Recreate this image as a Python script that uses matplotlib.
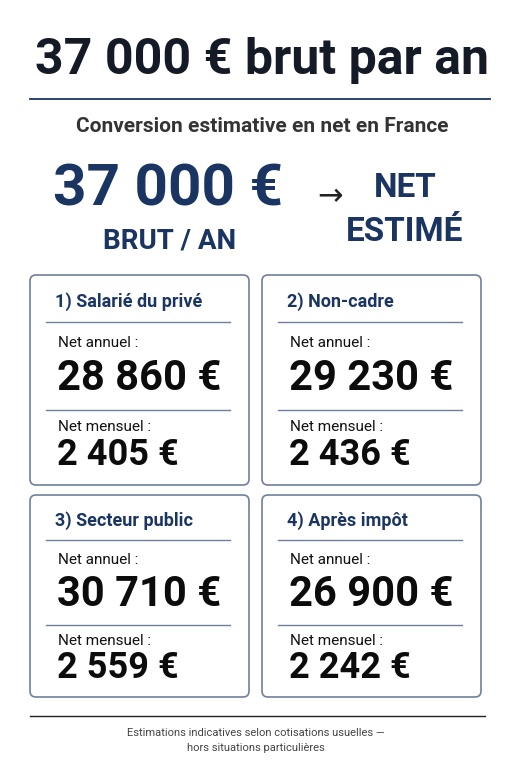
import matplotlib
matplotlib.use("Agg")
import matplotlib.pyplot as plt
from matplotlib.patches import FancyBboxPatch

categories = ["1) Salarié du privé", "2) Non-cadre", "3) Secteur public", "4) Après impôt"]
net_annuel = ["28 860 €", "29 230 €", "30 710 €", "26 900 €"]
net_mensuel = ["2 405 €", "2 436 €", "2 559 €", "2 242 €"]

NAVY = "#1b3563"
W, H = 511, 768
fig = plt.figure(figsize=(W/100, H/100), dpi=100)
ax = fig.add_axes([0, 0, 1, 1])
ax.set_xlim(0, W); ax.set_ylim(H, 0); ax.axis("off")
F = ["Roboto", "DejaVu Sans"]

def t(x, y, s, size, color="#111", ha="center", weight="bold", family=F):
    ax.text(x, y, s, fontsize=size, color=color, ha=ha, va="center", fontweight=weight, family=family)

t(262, 60, "37 000 € brut par an", 36, "#141a26")
ax.plot([30, 490], [99, 99], color=NAVY, lw=1.3)
t(262, 127, "Conversion estimative en net en France", 15, "#333")
t(168, 190, "37 000 €", 42, NAVY)
t(170, 241, "BRUT / AN", 20, NAVY)
t(330, 197, "→", 22, "#222", weight="normal", family=["DejaVu Sans"])
t(405, 188, "NET", 24, NAVY)
t(405, 232, "ESTIMÉ", 24, NAVY)

boxes = [(30, 275, 485), (262, 275, 485), (30, 495, 697), (262, 495, 697)]
for i, (x0, y0, y1) in enumerate(boxes):
    ax.add_patch(FancyBboxPatch((x0, y0), 219, y1-y0, boxstyle="round,pad=0,rounding_size=6",
                                fc="white", ec="#6f7f9c", lw=1.2))
    top = y0
    s = (y1 - y0) / 210
    t(x0+25, top+27*s, categories[i], 13, NAVY, ha="left")
    ax.plot([x0+16, x0+200], [top+47*s, top+47*s], color="#6f7f9c", lw=1)
    t(x0+28, top+68*s, "Net annuel :", 11, "#111", ha="left", weight="normal")
    t(x0+27, top+103*s, net_annuel[i], 30, "#0c0c0c", ha="left")
    ax.plot([x0+16, x0+200], [top+135*s, top+135*s], color="#6f7f9c", lw=1)
    t(x0+28, top+152*s, "Net mensuel :", 11, "#111", ha="left", weight="normal")
    t(x0+27, top+180*s, net_mensuel[i], 26, "#0c0c0c", ha="left")

ax.plot([30, 485], [716, 716], color="#222", lw=1)
t(256, 733, "Estimations indicatives selon cotisations usuelles —", 8, "#444", weight="normal")
t(256, 748, "hors situations particulières", 8, "#444", weight="normal")
fig.savefig("out.png", dpi=100)
